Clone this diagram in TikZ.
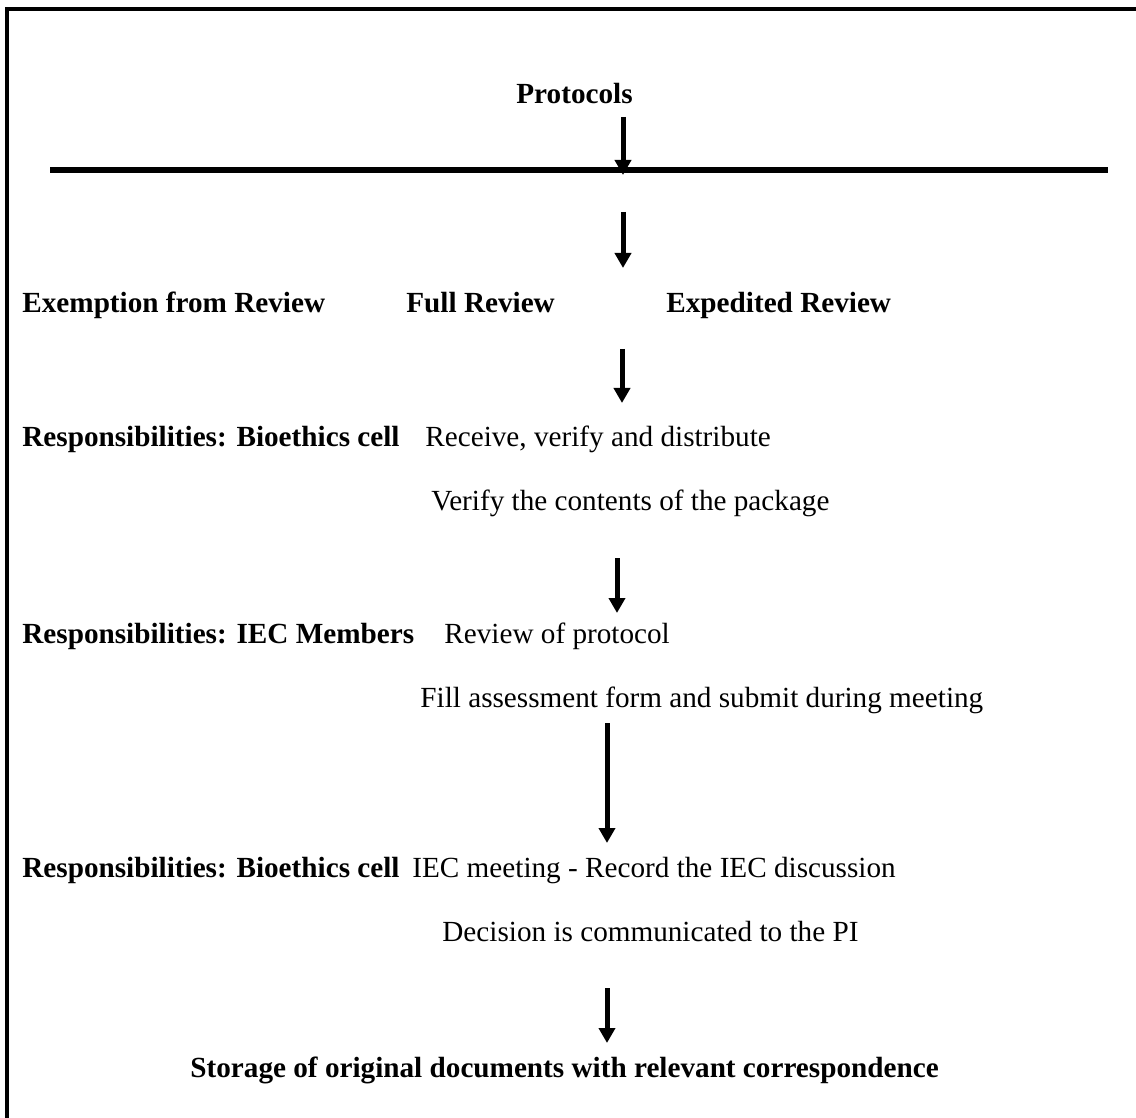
\documentclass[tikz,border=0pt]{standalone}
\usepackage{fontspec}
\setmainfont{Liberation Serif}
\usetikzlibrary{arrows.meta,positioning}

\begin{document}
\begin{tikzpicture}[
    x=0.5pt, y=-0.5pt,
    head/.style={anchor=base west, inner sep=0pt,
                 font=\fontsize{14.6pt}{17pt}\selectfont\bfseries},
    task/.style={anchor=base west, inner sep=0pt,
                 font=\fontsize{14.6pt}{17pt}\selectfont},
    arr/.style={-{Triangle[length=7.5pt, width=8pt]}, line width=2.5pt}
  ]
    \useasboundingbox (0,0) rectangle (1136,1118);
    \draw[line width=2pt] (7,1118) -- (7,9) -- (1136,9);

    % Top of the flow
    \node[head] (protocols) at (516,104) {Protocols};
    \coordinate (barL) at (50,170);
    \coordinate (barR) at (1108,170);
    \draw[line width=3pt] (barL) -- (barR);
    \coordinate (a1s) at (623,117);
    \coordinate (a1e) at (623,175);
    \draw[arr] (a1s) -- (a1e);

    \coordinate (a2s) at (623,212);
    \coordinate (a2e) at (623,268);
    \draw[arr] (a2s) -- (a2e);

    % Review categories
    \node[head] (exempt) at (22,313) {Exemption from Review};
    \node[head] (full) at (406,313) {Full Review};
    \node[head] (expedited) at (666,313) {Expedited Review};

    \coordinate (a3s) at (622,349);
    \coordinate (a3e) at (622,403);
    \draw[arr] (a3s) -- (a3e);

    % Bioethics cell
    \node[head] (cell1) at (22,446) {Responsibilities: Bioethics cell};
    \node[task] (receive) at (425,446) {Receive, verify and distribute};
    \node[task] (verify) at (431,510) {Verify the contents of the package};

    \coordinate (a4s) at (617,558);
    \coordinate (a4e) at (617,613);
    \draw[arr] (a4s) -- (a4e);

    % IEC members
    \node[head] (members) at (22,643) {Responsibilities: IEC Members};
    \node[task] (review) at (444,643) {Review of protocol};
    \node[task] (fill) at (420,707) {Fill assessment form and submit during meeting};

    \coordinate (a5s) at (607,723);
    \coordinate (a5e) at (607,843);
    \draw[arr] (a5s) -- (a5e);

    % Meeting and decision
    \node[head] (cell2) at (22,877) {Responsibilities: Bioethics cell};
    \node[task] (meeting) at (412,877) {IEC meeting - Record the IEC discussion};
    \node[task] (decision) at (442,941) {Decision is communicated to the PI};

    \coordinate (a6s) at (607,988);
    \coordinate (a6e) at (607,1043);
    \draw[arr] (a6s) -- (a6e);

    \node[head] (storage) at (190,1077) {Storage of original documents with relevant correspondence};
\end{tikzpicture}
\end{document}
